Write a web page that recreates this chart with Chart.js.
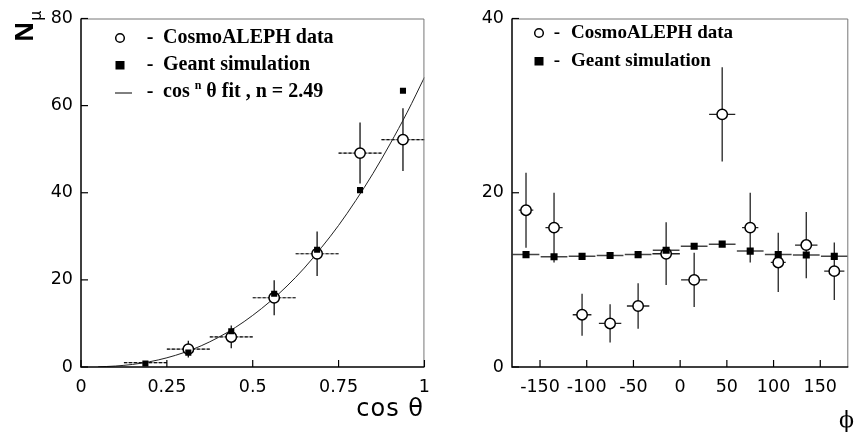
<!DOCTYPE html>
<html>
<head>
<meta charset="utf-8">
<script src="https://cdn.jsdelivr.net/npm/chart.js@4.4.1/dist/chart.umd.min.js"></script>
<style>
  html, body { margin: 0; padding: 0; background: #fff; }
  #wrap { position: relative; width: 855px; height: 435px; overflow: hidden; }
  canvas { position: absolute; top: 0; }
  #cCos { left: 0; }
  #cPhi { left: 440px; }
</style>
</head>
<body>
<div id="wrap">
  <canvas id="cCos" width="440" height="435"></canvas>
  <canvas id="cPhi" width="415" height="435"></canvas>
</div>
<script>
/* ---- left panel: N_mu vs cos(theta) ---- */
const cosTicks = [0, 0.25, 0.5, 0.75, 1];
const cosYTicks = [0, 20, 40, 60, 80];
const cosBins = [0.1875, 0.3125, 0.4375, 0.5625, 0.6875, 0.8125, 0.9375];
const cosData = [1.0, 4.1, 6.9, 15.9, 26.0, 49.1, 52.2];
const cosErr = [0, 1.9, 2.6, 4.0, 5.1, 7.0, 7.2];
const cosSim = [0.8, 3.3, 8.2, 16.8, 26.9, 40.6, 63.4];
// fit curve (cos^n theta, n = 2.49)
const fitX = [0.05, 0.1, 0.15, 0.2, 0.25, 0.3, 0.35, 0.4, 0.45, 0.5,
              0.55, 0.6, 0.65, 0.7, 0.75, 0.8, 0.85, 0.9, 0.95, 1.0];
const fitY = [0.04, 0.22, 0.59, 1.21, 2.11, 3.32, 4.87, 6.79, 9.10, 11.85,
              15.0, 18.6, 22.7, 27.4, 32.5, 38.2, 44.4, 51.2, 58.5, 66.5];

/* ---- right panel: N_mu vs phi ---- */
const phiTicks = [-150, -100, -50, 0, 50, 100, 150];
const phiYTicks = [0, 20, 40];
const phiBins = [-165, -135, -105, -75, -45, -15, 15, 45, 75, 105, 135, 165];
const phiData = [18.0, 16.0, 6.0, 5.0, 7.0, 13.0, 10.0, 29.0, 16.0, 12.0, 14.0, 11.0];
const phiErr = [4.3, 4.0, 2.4, 2.2, 2.6, 3.6, 3.1, 5.4, 4.0, 3.4, 3.8, 3.3];
const phiXErr = [7.8, 9.2, 10, 12, 12, 14.7, 14, 14, 8.7, 8, 12, 10.8];
const phiSim = [12.9, 12.65, 12.7, 12.8, 12.9, 13.4, 13.85, 14.1, 13.3, 12.9, 12.85, 12.7];

const TICK_FONT = { family: '"DejaVu Sans", sans-serif', size: 17.5 };
const INK = "#000";

const pts = (xs, ys) => xs.map((x, i) => ({ x, y: ys[i] }));

// error bars, frame, inward ticks, legend and axis titles
const hep = {
  id: "hep",
  beforeDatasetsDraw(chart, args, o) {
    const { ctx, scales: { x, y }, chartArea: a } = chart;
    ctx.save();
    ctx.beginPath(); ctx.rect(a.left, a.top, a.right - a.left, a.bottom - a.top); ctx.clip();
    (o.bars || []).forEach(b => {
      ctx.strokeStyle = b.color; ctx.lineWidth = b.width; ctx.setLineDash(b.dash || []);
      b.x.forEach((xv, i) => {
        const px = x.getPixelForValue(xv), py = y.getPixelForValue(b.y[i]);
        ctx.beginPath();
        if (b.ex != null) {
          const ex = Array.isArray(b.ex) ? b.ex[i] : b.ex;
          ctx.moveTo(x.getPixelForValue(xv - ex), py); ctx.lineTo(x.getPixelForValue(xv + ex), py);
        }
        if (b.ey && b.ey[i]) {
          ctx.moveTo(px, y.getPixelForValue(b.y[i] - b.ey[i])); ctx.lineTo(px, y.getPixelForValue(b.y[i] + b.ey[i]));
        }
        ctx.stroke();
      });
    });
    ctx.restore();
  },
  afterDraw(chart, args, o) {
    const { ctx, scales: { x, y }, chartArea: a } = chart;
    ctx.save();
    // frame: top/right grey, left/bottom black
    ctx.setLineDash([]);
    ctx.strokeStyle = "#777"; ctx.lineWidth = 1;
    ctx.beginPath(); ctx.moveTo(a.left, a.top + 0.5); ctx.lineTo(a.right - 0.5, a.top + 0.5); ctx.lineTo(a.right - 0.5, a.bottom); ctx.stroke();
    ctx.strokeStyle = "#000"; ctx.lineWidth = 1.5;
    ctx.beginPath(); ctx.moveTo(a.left, a.top); ctx.lineTo(a.left, a.bottom); ctx.lineTo(a.right, a.bottom); ctx.stroke();
    // inward ticks
    ctx.lineWidth = 1.2;
    x.ticks.forEach(t => { const p = x.getPixelForValue(t.value); ctx.beginPath(); ctx.moveTo(p, a.bottom); ctx.lineTo(p, a.bottom - 7); ctx.stroke(); });
    y.ticks.forEach(t => { const p = y.getPixelForValue(t.value); ctx.beginPath(); ctx.moveTo(a.left, p); ctx.lineTo(a.left + 7, p); ctx.stroke(); });

    // legend
    const L = o.legend;
    ctx.fillStyle = "#000"; ctx.textBaseline = "middle"; ctx.textAlign = "left";
    L.rows.forEach(r => {
      const mx = L.markX, my = r.y;
      if (r.type === "circle") {
        ctx.lineWidth = 1.5; ctx.strokeStyle = "#000"; ctx.fillStyle = "#fff";
        ctx.beginPath(); ctx.arc(mx, my, 4.3, 0, Math.PI * 2); ctx.fill(); ctx.stroke();
      } else if (r.type === "square") {
        ctx.fillStyle = "#000"; ctx.fillRect(mx - 4.5, my - 4, 9, 8.5);
      } else {
        ctx.strokeStyle = "#000"; ctx.lineWidth = 1;
        ctx.beginPath(); ctx.moveTo(mx - 5, my + 1); ctx.lineTo(mx + 12, my + 1); ctx.stroke();
      }
      ctx.fillStyle = "#000";
      ctx.font = `bold ${L.size}px "Liberation Serif", serif`;
      ctx.textAlign = "center"; ctx.fillText("-", L.dashX, my);
      ctx.textAlign = "left";
      let tx = L.textX;
      r.parts.forEach(p => {
        ctx.font = `bold ${p.sup ? Math.round(L.size * 0.62) : L.size}px "Liberation Serif", serif`;
        ctx.fillText(p.t, tx, p.sup ? my - 6 : my);
        tx += ctx.measureText(p.t).width;
      });
    });

    // axis titles
    (o.titles || []).forEach(t => {
      ctx.save();
      ctx.fillStyle = INK; ctx.font = t.font; ctx.textAlign = t.align || "left";
      ctx.textBaseline = t.base || "middle";
      if (t.letter) ctx.letterSpacing = t.letter;
      ctx.translate(t.x, t.y);
      if (t.rot) ctx.rotate(t.rot);
      ctx.fillText(t.text, 0, 0);
      if (t.sub) {
        const w = ctx.measureText(t.text).width;
        ctx.font = t.sub.font;
        ctx.fillText(t.sub.text, w + t.sub.dx, t.sub.dy);
      }
      ctx.restore();
    });
    ctx.restore();
  },
};

function axis(min, max, tickList, fitSize, isX) {
  return {
    type: "linear", min, max,
    grid: { display: false, drawTicks: false },
    border: { display: false },
    ticks: { font: TICK_FONT, color: INK, padding: isX ? 10 : 8, autoSkip: false, maxRotation: 0,
      callback: v => String(v) },
    afterBuildTicks: s => { s.ticks = tickList.map(v => ({ value: v })); },
    afterFit: s => { if (isX) s.height = fitSize; else s.width = fitSize; },
  };
}

new Chart(document.getElementById("cCos"), {
  type: "scatter",
  data: {
    datasets: [
      { label: "Geant simulation", data: pts(cosBins, cosSim), order: 0,
        pointStyle: "rect", pointRadius: 4.3, backgroundColor: "#000", borderColor: "#000", borderWidth: 0 },
      { label: "CosmoALEPH data", data: pts(cosBins, cosData), order: 1,
        pointStyle: "circle", pointRadius: [0, 5.2, 5.2, 5.2, 5.2, 5.2, 5.2],
        backgroundColor: "#fff", borderColor: "#000", borderWidth: 1.5 },
      { label: "cos^n fit", type: "line", data: pts(fitX, fitY), order: 2,
        borderColor: "#222", borderWidth: 1, pointRadius: 0, cubicInterpolationMode: "monotone", fill: false },
    ],
  },
  options: {
    responsive: false, animation: false, events: [],
    layout: { padding: { top: 13, right: 15, left: 0, bottom: 0 } },
    scales: {
      x: axis(0, 1, cosTicks, 68, true),
      y: axis(0, 80, cosYTicks, 81, false),
    },
    plugins: {
      legend: { display: false }, tooltip: { enabled: false },
      hep: {
        bars: [
          { x: cosBins, y: cosData, ex: 0.0625, color: "#999", width: 1.2 },
          { x: cosBins, y: cosData, ex: 0.0625, color: "#111", width: 1.2, dash: [3, 2] },
          { x: cosBins, y: cosData, ey: cosErr, color: "#111", width: 1.3 },
        ],
        legend: { markX: 120, dashX: 150, textX: 163, size: 20, rows: [
          { type: "circle", y: 38, parts: [{ t: "CosmoALEPH data" }] },
          { type: "square", y: 65, parts: [{ t: "Geant simulation" }] },
          { type: "line", y: 92, parts: [{ t: "cos " }, { t: "n", sup: true }, { t: " \u03b8 fit , n = 2.49" }] },
        ] },
        titles: [
          { text: "cos \u03b8", x: 424, y: 410, align: "right", font: '24px "DejaVu Sans", sans-serif', letter: "1px" },
          { text: "N", x: 33, y: 42, rot: -Math.PI / 2, base: "alphabetic", font: 'bold 25px "Noto Sans", sans-serif',
            sub: { text: "\u03bc", font: '16px "Noto Sans", sans-serif', dx: 1, dy: 8 } },
        ],
      },
    },
  },
  plugins: [hep],
});

new Chart(document.getElementById("cPhi"), {
  type: "scatter",
  data: {
    datasets: [
      { label: "Geant simulation", data: pts(phiBins, phiSim), order: 0,
        pointStyle: "rect", pointRadius: 5, backgroundColor: "#000", borderColor: "#000", borderWidth: 0 },
      { label: "CosmoALEPH data", data: pts(phiBins, phiData), order: 1,
        pointStyle: "circle", pointRadius: 5.2, backgroundColor: "#fff", borderColor: "#000", borderWidth: 1.5 },
    ],
  },
  options: {
    responsive: false, animation: false, events: [],
    layout: { padding: { top: 13, right: 1, left: 0, bottom: 0 } },
    scales: {
      x: axis(-180, 180, phiTicks, 68, true),
      y: axis(0, 40, phiYTicks, 72, false),
    },
    plugins: {
      legend: { display: false }, tooltip: { enabled: false },
      hep: {
        bars: [
          { x: phiBins, y: phiSim, ex: 14.3, color: "#444", width: 1.5 },
          { x: phiBins, y: phiData, ex: phiXErr, ey: phiErr, color: "#222", width: 1.3 },
        ],
        legend: { markX: 99, dashX: 117, textX: 131, size: 19, rows: [
          { type: "circle", y: 33, parts: [{ t: "CosmoALEPH data" }] },
          { type: "square", y: 61, parts: [{ t: "Geant simulation" }] },
        ] },
        titles: [
          { text: "\u03d5", x: 414, y: 421, align: "right", font: '22px "DejaVu Serif", serif' },
        ],
      },
    },
  },
  plugins: [hep],
});
</script>
</body>
</html>
